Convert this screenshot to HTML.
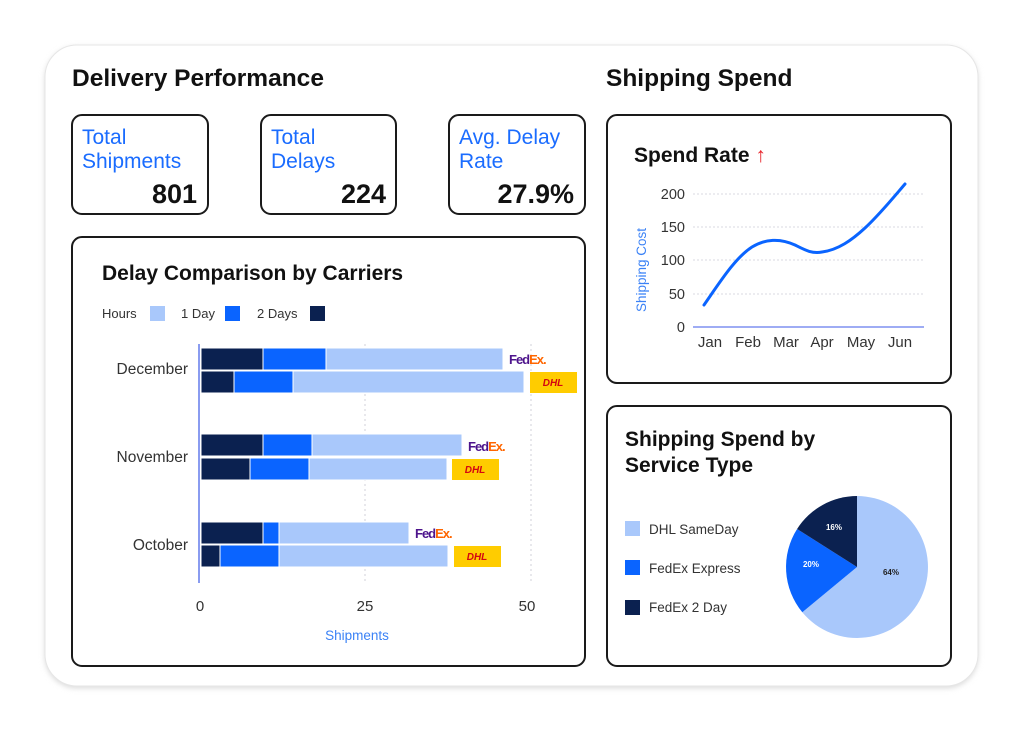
<!DOCTYPE html>
<html><head><meta charset="utf-8"><style>
html,body{margin:0;padding:0;background:#fff;width:1024px;height:732px;overflow:hidden}
svg text{font-family:"Liberation Sans",sans-serif}
</style></head><body>
<svg width="1024" height="732" viewBox="0 0 1024 732" xmlns="http://www.w3.org/2000/svg">
<defs><filter id="sh" x="-10%" y="-10%" width="120%" height="120%"><feGaussianBlur stdDeviation="3"/></filter></defs>
<rect x="45" y="47" width="933" height="641" rx="32" fill="#d8d8d8" filter="url(#sh)"/>
<rect x="45" y="45" width="933" height="641" rx="32" fill="#fff" stroke="#e6e6e6"/>
<text x="72" y="86" font-size="24.5" font-weight="bold" fill="#111">Delivery Performance</text>
<text x="606" y="86" font-size="24.5" font-weight="bold" fill="#111">Shipping Spend</text>
<g fill="#fff" stroke="#1a1a1a" stroke-width="2">
<rect x="72" y="115" width="136" height="99" rx="10"/>
<rect x="261" y="115" width="135" height="99" rx="10"/>
<rect x="449" y="115" width="136" height="99" rx="10"/>
<rect x="72" y="237" width="513" height="429" rx="10"/>
<rect x="607" y="115" width="344" height="268" rx="10"/>
<rect x="607" y="406" width="344" height="260" rx="10"/>
</g>
<g font-size="21" fill="#1a6cff">
<text x="82" y="144">Total</text><text x="82" y="168">Shipments</text>
<text x="271" y="144">Total</text><text x="271" y="168">Delays</text>
<text x="459" y="144">Avg. Delay</text><text x="459" y="168">Rate</text>
</g>
<g font-size="27" font-weight="bold" fill="#111" text-anchor="end">
<text x="197" y="203">801</text><text x="386" y="203">224</text><text x="574" y="203">27.9%</text>
</g>
<!-- bar chart -->
<text x="102" y="280" font-size="21" font-weight="bold" fill="#111">Delay Comparison by Carriers</text>
<g font-size="13" fill="#333">
<text x="102" y="318">Hours</text><rect x="150" y="306" width="15" height="15" fill="#a9c8fb"/>
<text x="181" y="318">1 Day</text><rect x="225" y="306" width="15" height="15" fill="#0a64ff"/>
<text x="257" y="318">2 Days</text><rect x="310" y="306" width="15" height="15" fill="#0b2150"/>
</g>
<g stroke="#d0d0d8" stroke-dasharray="2,3"><line x1="365" y1="344" x2="365" y2="583"/><line x1="531" y1="344" x2="531" y2="583"/></g>
<line x1="199" y1="344" x2="199" y2="583" stroke="#8a9cf0" stroke-width="2"/>
<g stroke="#fff" stroke-width="1">
<rect x="201" y="348" width="62" height="22" fill="#0b2150"/><rect x="263" y="348" width="63" height="22" fill="#0a64ff"/><rect x="326" y="348" width="177" height="22" fill="#a9c8fb"/>
<rect x="201" y="371" width="33" height="22" fill="#0b2150"/><rect x="234" y="371" width="59" height="22" fill="#0a64ff"/><rect x="293" y="371" width="231" height="22" fill="#a9c8fb"/>
<rect x="201" y="434" width="62" height="22" fill="#0b2150"/><rect x="263" y="434" width="49" height="22" fill="#0a64ff"/><rect x="312" y="434" width="150" height="22" fill="#a9c8fb"/>
<rect x="201" y="458" width="49" height="22" fill="#0b2150"/><rect x="250" y="458" width="59" height="22" fill="#0a64ff"/><rect x="309" y="458" width="138" height="22" fill="#a9c8fb"/>
<rect x="201" y="522" width="62" height="22" fill="#0b2150"/><rect x="263" y="522" width="16" height="22" fill="#0a64ff"/><rect x="279" y="522" width="130" height="22" fill="#a9c8fb"/>
<rect x="201" y="545" width="19" height="22" fill="#0b2150"/><rect x="220" y="545" width="59" height="22" fill="#0a64ff"/><rect x="279" y="545" width="169" height="22" fill="#a9c8fb"/>
</g>
<g font-size="13" font-weight="bold" letter-spacing="-1">
<text x="509" y="364"><tspan fill="#4d148c">Fed</tspan><tspan fill="#ff6600">Ex.</tspan></text>
<text x="468" y="451"><tspan fill="#4d148c">Fed</tspan><tspan fill="#ff6600">Ex.</tspan></text>
<text x="415" y="538"><tspan fill="#4d148c">Fed</tspan><tspan fill="#ff6600">Ex.</tspan></text>
</g>
<g font-size="10" font-weight="bold" font-style="italic" fill="#d40511" text-anchor="middle">
<rect x="530" y="372" width="47" height="21" fill="#ffcc00"/><text x="553" y="386">DHL</text>
<rect x="452" y="459" width="47" height="21" fill="#ffcc00"/><text x="475" y="473">DHL</text>
<rect x="454" y="546" width="47" height="21" fill="#ffcc00"/><text x="477" y="560">DHL</text>
</g>
<g font-size="15.5" fill="#333" text-anchor="end">
<text x="188" y="374">December</text><text x="188" y="462">November</text><text x="188" y="550">October</text>
</g>
<g font-size="15" fill="#333" text-anchor="middle">
<text x="200" y="611">0</text><text x="365" y="611">25</text><text x="527" y="611">50</text>
</g>
<text x="357" y="640" font-size="13.5" fill="#3b82f6" text-anchor="middle">Shipments</text>
<!-- line chart -->
<text x="634" y="162" font-size="21" font-weight="bold" fill="#111">Spend Rate <tspan fill="#e8242b" font-weight="normal">↑</tspan></text>
<g stroke="#d8d8e0" stroke-dasharray="2,2"><line x1="693" y1="194" x2="924" y2="194"/><line x1="693" y1="227" x2="924" y2="227"/><line x1="693" y1="260" x2="924" y2="260"/><line x1="693" y1="294" x2="924" y2="294"/></g>
<line x1="693" y1="327" x2="924" y2="327" stroke="#7e90f0" stroke-width="1.5"/>
<g font-size="14.5" fill="#333" text-anchor="end">
<text x="685" y="199">200</text><text x="685" y="232">150</text><text x="685" y="265">100</text><text x="685" y="299">50</text><text x="685" y="332">0</text>
</g>
<g font-size="15" fill="#333" text-anchor="middle">
<text x="710" y="347">Jan</text><text x="748" y="347">Feb</text><text x="786" y="347">Mar</text><text x="822" y="347">Apr</text><text x="861" y="347">May</text><text x="900" y="347">Jun</text>
</g>
<text transform="translate(646,270) rotate(-90)" font-size="13.5" fill="#3b82f6" text-anchor="middle">Shipping Cost</text>
<path d="M704,305 C720,282 735,258 752,247 C765,239 780,238 795,245 C805,250 812,254 822,252 C838,250 852,240 865,228 C880,214 893,198 905,184" fill="none" stroke="#0a64ff" stroke-width="3" stroke-linecap="round"/>
<!-- pie -->
<text x="625" y="446" font-size="21" font-weight="bold" fill="#111">Shipping Spend by</text>
<text x="625" y="472" font-size="21" font-weight="bold" fill="#111">Service Type</text>
<g font-size="13.5" fill="#333">
<rect x="625" y="521" width="15" height="15" fill="#a9c8fb"/><text x="649" y="534">DHL SameDay</text>
<rect x="625" y="560" width="15" height="15" fill="#0a64ff"/><text x="649" y="573">FedEx Express</text>
<rect x="625" y="600" width="15" height="15" fill="#0b2150"/><text x="649" y="612">FedEx 2 Day</text>
</g>
<path d="M857,567 L857,496 A71,71 0 1 1 802.3,612.3 Z" fill="#a9c8fb"/>
<path d="M857,567 L802.3,612.3 A71,71 0 0 1 797.1,529 Z" fill="#0a64ff"/>
<path d="M857,567 L797.1,529 A71,71 0 0 1 857,496 Z" fill="#0b2150"/>
<g font-size="8" font-weight="bold" text-anchor="middle">
<text x="834" y="530" fill="#fff">16%</text><text x="811" y="567" fill="#fff">20%</text><text x="891" y="575" fill="#222">64%</text>
</g>
</svg>
</body></html>
